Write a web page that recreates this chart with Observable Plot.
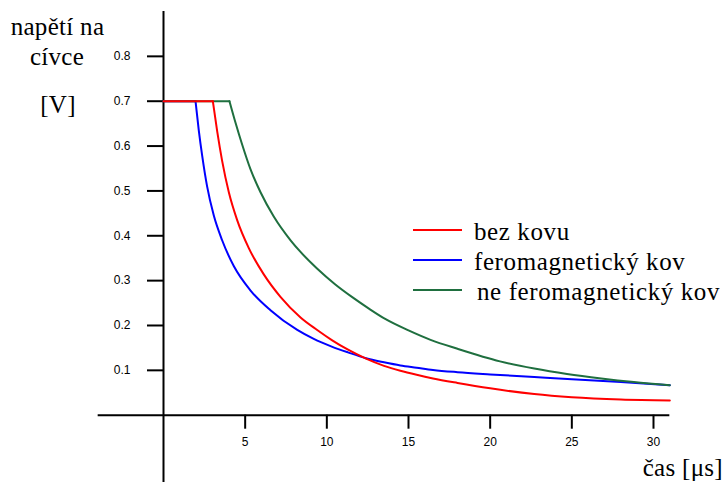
<!DOCTYPE html>
<html>
<head>
<meta charset="utf-8">
<script src="https://cdn.jsdelivr.net/npm/d3@7"></script>
<script src="https://cdn.jsdelivr.net/npm/@observablehq/plot@0.6"></script>
<style>
  body { margin: 0; background: #fff; }
  #wrap { position: relative; width: 725px; height: 482px; overflow: hidden; }
  #wrap svg.overlay { position: absolute; left: 0; top: 0; pointer-events: none; }
</style>
</head>
<body>
<div id="wrap"></div>
<script>
// ---- data ----
const seriesNames = ["bez kovu", "feromagnetický kov", "ne feromagnetický kov"];
const seriesColors = ["#ff0000", "#0000ff", "#1f6f3f"];

const redT = [0, 3.02, 3.29, 3.59, 4.0, 4.51, 5.23, 6.14, 7.16, 8.39, 9.41, 10.33, 11.3, 12.4, 13.5, 14.5, 15.5, 16.5, 18, 20, 22.7, 25, 28, 31];
const redV = [0.7, 0.7, 0.632, 0.567, 0.497, 0.435, 0.372, 0.314, 0.264, 0.218, 0.19, 0.167, 0.146, 0.126, 0.11, 0.099, 0.09, 0.082, 0.072, 0.06, 0.047, 0.04, 0.035, 0.033];

const blueT = [0, 1.96, 2.16, 2.37, 2.67, 3.08, 3.59, 4.31, 5.33, 6.55, 8.19, 9.2, 10.3, 11.3, 12.4, 13.5, 14.5, 15.5, 16.5, 18, 20, 22.7, 25, 28, 31];
const blueV = [0.7, 0.7, 0.635, 0.578, 0.51, 0.445, 0.39, 0.332, 0.278, 0.234, 0.19, 0.17, 0.153, 0.14, 0.127, 0.118, 0.111, 0.106, 0.101, 0.096, 0.091, 0.085, 0.08, 0.074, 0.067];

const greenT = [0, 4.04, 4.41, 4.82, 5.33, 5.94, 6.75, 7.78, 8.39, 9.4, 10.5, 11.6, 12.6, 13.6, 15, 16.35, 18, 20.6, 22.7, 24.7, 26.8, 28.8, 31];
const greenV = [0.7, 0.7, 0.652, 0.603, 0.548, 0.497, 0.443, 0.39, 0.364, 0.327, 0.292, 0.262, 0.237, 0.214, 0.189, 0.168, 0.148, 0.12, 0.104, 0.092, 0.082, 0.074, 0.067];

const xTicks = [5, 10, 15, 20, 25, 30];
const yTicks = [0.1, 0.2, 0.3, 0.4, 0.5, 0.6, 0.7, 0.8];
const yTitleLines = ["napětí na", "cívce", "[V]"];
const xTitle = "čas [μs]";

// ---- build table (flat part + decay part per series) ----
const data = [];
[[seriesNames[1], blueT, blueV], [seriesNames[2], greenT, greenV], [seriesNames[0], redT, redV]]
  .forEach(([name, t, v]) => {
    t.forEach((x, i) => {
      if (i <= 1) data.push({series: name, seg: name + "-flat", t: x, v: v[i]});
      if (i >= 1) data.push({series: name, seg: name + "-decay", t: x, v: v[i]});
    });
  });

const sans = "Liberation Sans, Arial, sans-serif";

const chart = Plot.plot({
  width: 725,
  height: 482,
  marginLeft: 163,
  marginRight: 55.67,
  marginTop: 11,
  marginBottom: 67.3,
  x: {domain: [0, 31]},
  y: {domain: [0, 0.9]},
  color: {domain: seriesNames, range: seriesColors},
  style: {background: "white", overflow: "visible"},
  marks: [
    Plot.ruleY([0], {x1: -4, x2: 31, stroke: "black", strokeWidth: 2}),
    Plot.ruleX([0], {y1: -0.15, y2: 0.9, stroke: "black", strokeWidth: 2}),
    Plot.axisX({ticks: xTicks, anchor: "bottom", tickSize: 14, tickPadding: 8, strokeWidth: 2,
      fontSize: 12, fontFamily: sans, label: null, tickFormat: d => String(d)}),
    Plot.axisY({ticks: yTicks, anchor: "left", tickSize: 16, tickPadding: 17, strokeWidth: 2,
      fontSize: 12, fontFamily: sans, label: null, tickFormat: d => d.toFixed(1)}),
    Plot.line(data, {x: "t", y: "v", z: "seg", stroke: "series", strokeWidth: 2, curve: "monotone-x"})
  ]
});

const wrap = document.getElementById("wrap");
wrap.appendChild(chart);

// ---- overlay: axis titles and legend ----
const ov = d3.select(wrap).append("svg")
  .attr("class", "overlay")
  .attr("width", 725).attr("height", 482);

function addText(x, y, s, anchor, spacing) {
  ov.append("text").attr("x", x).attr("y", y)
    .attr("text-anchor", anchor || "start")
    .attr("font-family", "Liberation Serif")
    .attr("font-size", 25)
    .attr("letter-spacing", spacing || 0)
    .text(s);
}

const titlePos = [[57.5, 35], [57, 65], [58, 113]];
yTitleLines.forEach((s, i) => addText(titlePos[i][0], titlePos[i][1], s, "middle", 0.3));
addText(723, 476, xTitle, "end", 0.3);

const legendX = [474, 474, 477];
seriesNames.forEach((name, i) => {
  const y = 230 + i * 30;
  ov.append("line").attr("x1", 413).attr("x2", 462).attr("y1", y).attr("y2", y)
    .attr("stroke", seriesColors[i]).attr("stroke-width", 2);
  addText(legendX[i], y + 10, name, "start", 0.6);
});
</script>
</body>
</html>
